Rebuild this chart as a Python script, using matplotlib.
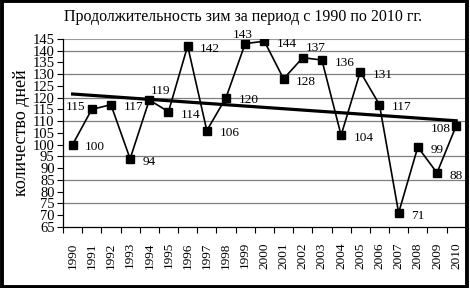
#!/usr/bin/env python3
"""Winter duration 1990-2010 line chart with a linear trend."""

import matplotlib

matplotlib.use("Agg")
import matplotlib.pyplot as plt
import numpy as np
from matplotlib.patches import Rectangle

years = list(range(1990, 2011))
days = [100, 115, 117, 94, 119, 114, 142, 106, 120, 143, 144,
        128, 137, 136, 104, 131, 117, 71, 99, 88, 108]
y_ticks = list(range(65, 146, 5))
grid_levels = [75, 85, 95, 110, 120, 130, 140]

# label placement per point: (dx, dy, ha, va) in points
label_pos = {
    1991: (-5, 2, "right", "center"),
    1994: (1, 2, "left", "bottom"),
    1999: (-2, 2, "center", "bottom"),
    2002: (2, 3, "left", "bottom"),
    2010: (-4, -2, "right", "center"),
}

SERIF = "Liberation Serif"

fig = plt.figure(figsize=(4.7, 2.88), dpi=100)
ax = fig.add_axes([0.134, 0.212, 0.857, 0.653])

x = np.arange(len(years))
ax.plot(x, days, color="black", lw=1.2, marker="s", ms=5.8, zorder=3)

slope, intercept = np.polyfit(x, days, 1)
ends = np.array([x[0], x[-1]])
ax.plot(ends, slope * ends + intercept, color="black", lw=2.3, zorder=4)

for xi, yr, val in zip(x, years, days):
    dx, dy, ha, va = label_pos.get(yr, (9, -2, "left", "center"))
    ax.annotate(str(val), (xi, val), xytext=(dx, dy), textcoords="offset points",
                ha=ha, va=va, fontsize=9.5, family=SERIF, zorder=5,
                annotation_clip=False)

for lvl in grid_levels:
    ax.axhline(lvl, color="#7f7f7f", lw=0.9, zorder=1)
ax.axhline(145, color="#9a9a9a", lw=0.8, zorder=1)

ax.set_xlim(-0.5, len(years) - 0.5)
ax.set_ylim(65, 145)
ax.set_yticks(y_ticks)
ax.set_yticklabels([str(t) for t in y_ticks], family=SERIF, fontsize=10.5)
ax.tick_params(axis="y", length=4, width=0.8, pad=2)

ax.set_xticks(x)
ax.set_xticklabels([str(y) for y in years], rotation=90, family=SERIF, fontsize=9.5)
ax.set_xticks(np.arange(-0.5, len(years), 1), minor=True)
ax.tick_params(axis="x", which="major", length=0, pad=11)
ax.tick_params(axis="x", which="minor", length=4, width=0.8)

for side in ("top", "right"):
    ax.spines[side].set_visible(False)
ax.spines["left"].set_linewidth(0.9)
ax.spines["bottom"].set_linewidth(0.9)

ax.set_ylabel("количество дней", family=SERIF, fontsize=13, labelpad=2)
fig.text(0.517, 0.94, "Продолжительность зим за период с 1990 по 2010 гг.",
         ha="center", va="center", family=SERIF, fontsize=11.5)

fig.patches.append(Rectangle((0.004, 0.005), 0.99, 0.99, transform=fig.transFigure,
                             fill=False, edgecolor="black", lw=2.8))

fig.savefig("out.png", dpi=100)
